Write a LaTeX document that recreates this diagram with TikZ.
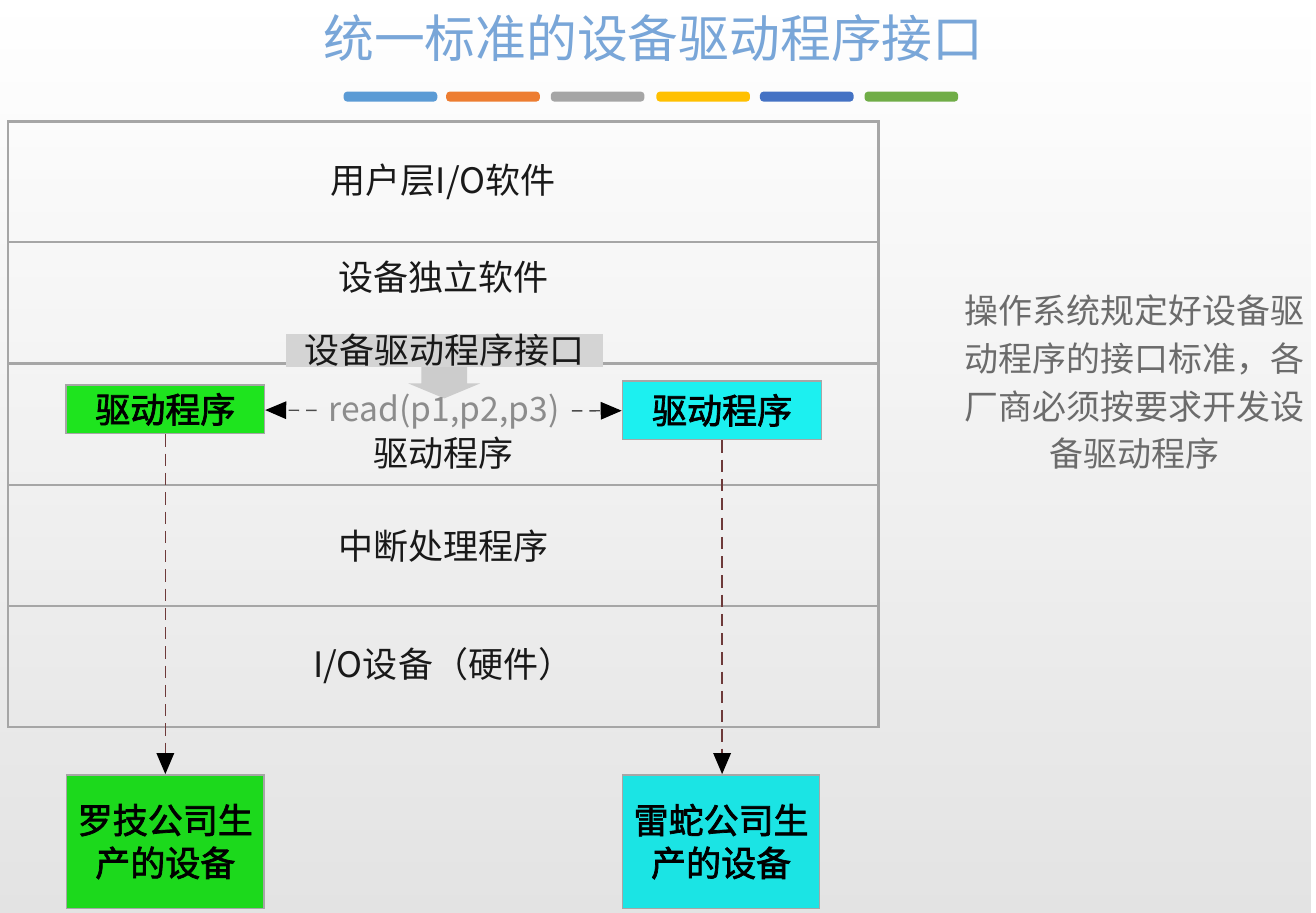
\documentclass[tikz,border=0pt]{standalone}
\usepackage{fontspec}
\setmainfont{Noto Sans CJK SC}
\newfontfamily\medfont[FakeBold=2]{Noto Sans CJK SC}
\usetikzlibrary{arrows.meta,positioning}
\definecolor{titleblue}{HTML}{79A6D8}
\definecolor{drvgreen}{HTML}{1EE41E}
\definecolor{drvcyan} {HTML}{1CF0F0}
\definecolor{dashred} {HTML}{6E3A3A}

\begin{document}
\begin{tikzpicture}[x=0.01cm,y=-0.01cm,
      layer/.style={font=\fontsize{10}{12}\selectfont,text=black!90},
      drvbox/.style={draw=black!35,inner sep=0pt,minimum width=1.99cm,
                     font=\fontsize{10}{12}\medfont},
      devbox/.style={draw=black!35,inner sep=0pt,align=center,
                     minimum width=1.98cm,minimum height=1.34cm,
                     font=\fontsize{10}{12.2}\medfont},
      arr/.style={-{Triangle[black,length=6pt,width=5pt]},
                  dash pattern=on 3pt off 2pt,black!70,thin},
      vdash/.style={-{Triangle[black,length=6pt,width=5pt]},
                    dash pattern=on 3.5pt off 2pt,dashred,thin}]
    % background
    \shade[top color=white,bottom color=black!11] (0,0) rectangle (1316,916);
    % title and colour bars
    \node[text=titleblue,font=\fontsize{14.5}{16}\selectfont] (title) at (656,38)
      {统一标准的设备驱动程序接口};
    \foreach \x/\c in {345/5B9BD5,448/ED7D31,553/A5A5A5,659/FFC000,763/4472C4,868/70AD47}{
      \definecolor{barcol}{HTML}{\c}
      \fill[barcol,rounded corners=1pt] (\x,92) rectangle ++(94,10);
    }
    % layers
    \draw[black!35,line width=0.6pt] (8,122) rectangle (882,730);
    \foreach \y in {243,365,487,608}
      \draw[black!35,line width=0.6pt] (8,\y) -- (882,\y);
    \node[layer] (user) at (445,183) {用户层I/O软件};
    \node[layer] (indep) at (445,278) {设备独立软件};
    \fill[black!20] (423,368) -- (469,368) -- (469,385) -- (482,385)
      -- (446,400) -- (410,385) -- (423,385) -- cycle;
    \node[layer,fill=black!17,inner sep=0pt,minimum width=3.18cm,
          minimum height=0.33cm] (intf) at (446,352) {设备驱动程序接口};
    \node[layer] (drv) at (445,455) {驱动程序};
    \node[layer] (intr) at (445,548) {中断处理程序};
    \node[layer] (hw) at (445,668) {I/O设备（硬件）};
    % driver boxes
    \node[drvbox,fill=drvgreen,minimum height=0.49cm] (gdrv) at (166,411) {驱动程序};
    \node[drvbox,fill=drvcyan,minimum width=2cm,minimum height=0.59cm] (cdrv) at (725,412) {驱动程序};
    \node[text=black!45,font=\fontsize{9.6}{12}\selectfont] (rd) at (446,413) {read(p1,p2,p3)};
    \draw[arr] (rd) -- (gdrv);
    \draw[arr] (rd) -- (cdrv);
    % devices
    \node[devbox,fill=drvgreen!95!black] (gdev) at (166,845) {罗技公司生\\产的设备};
    \node[devbox,fill=drvcyan!95!black] (cdev) at (724,845) {雷蛇公司生\\产的设备};
    \draw[vdash] (gdrv.south) -- (gdrv.south |- gdev.north);
    \draw[vdash] (cdrv.south) -- (cdrv.south |- cdev.north);
    % note
    \node[text=black!58,align=center,font=\fontsize{9.7}{13.6}\selectfont] (note) at (1139,384)
      {操作系统规定好设备驱\\动程序的接口标准，各\\厂商必须按要求开发设\\备驱动程序};
  \end{tikzpicture}
\end{document}
